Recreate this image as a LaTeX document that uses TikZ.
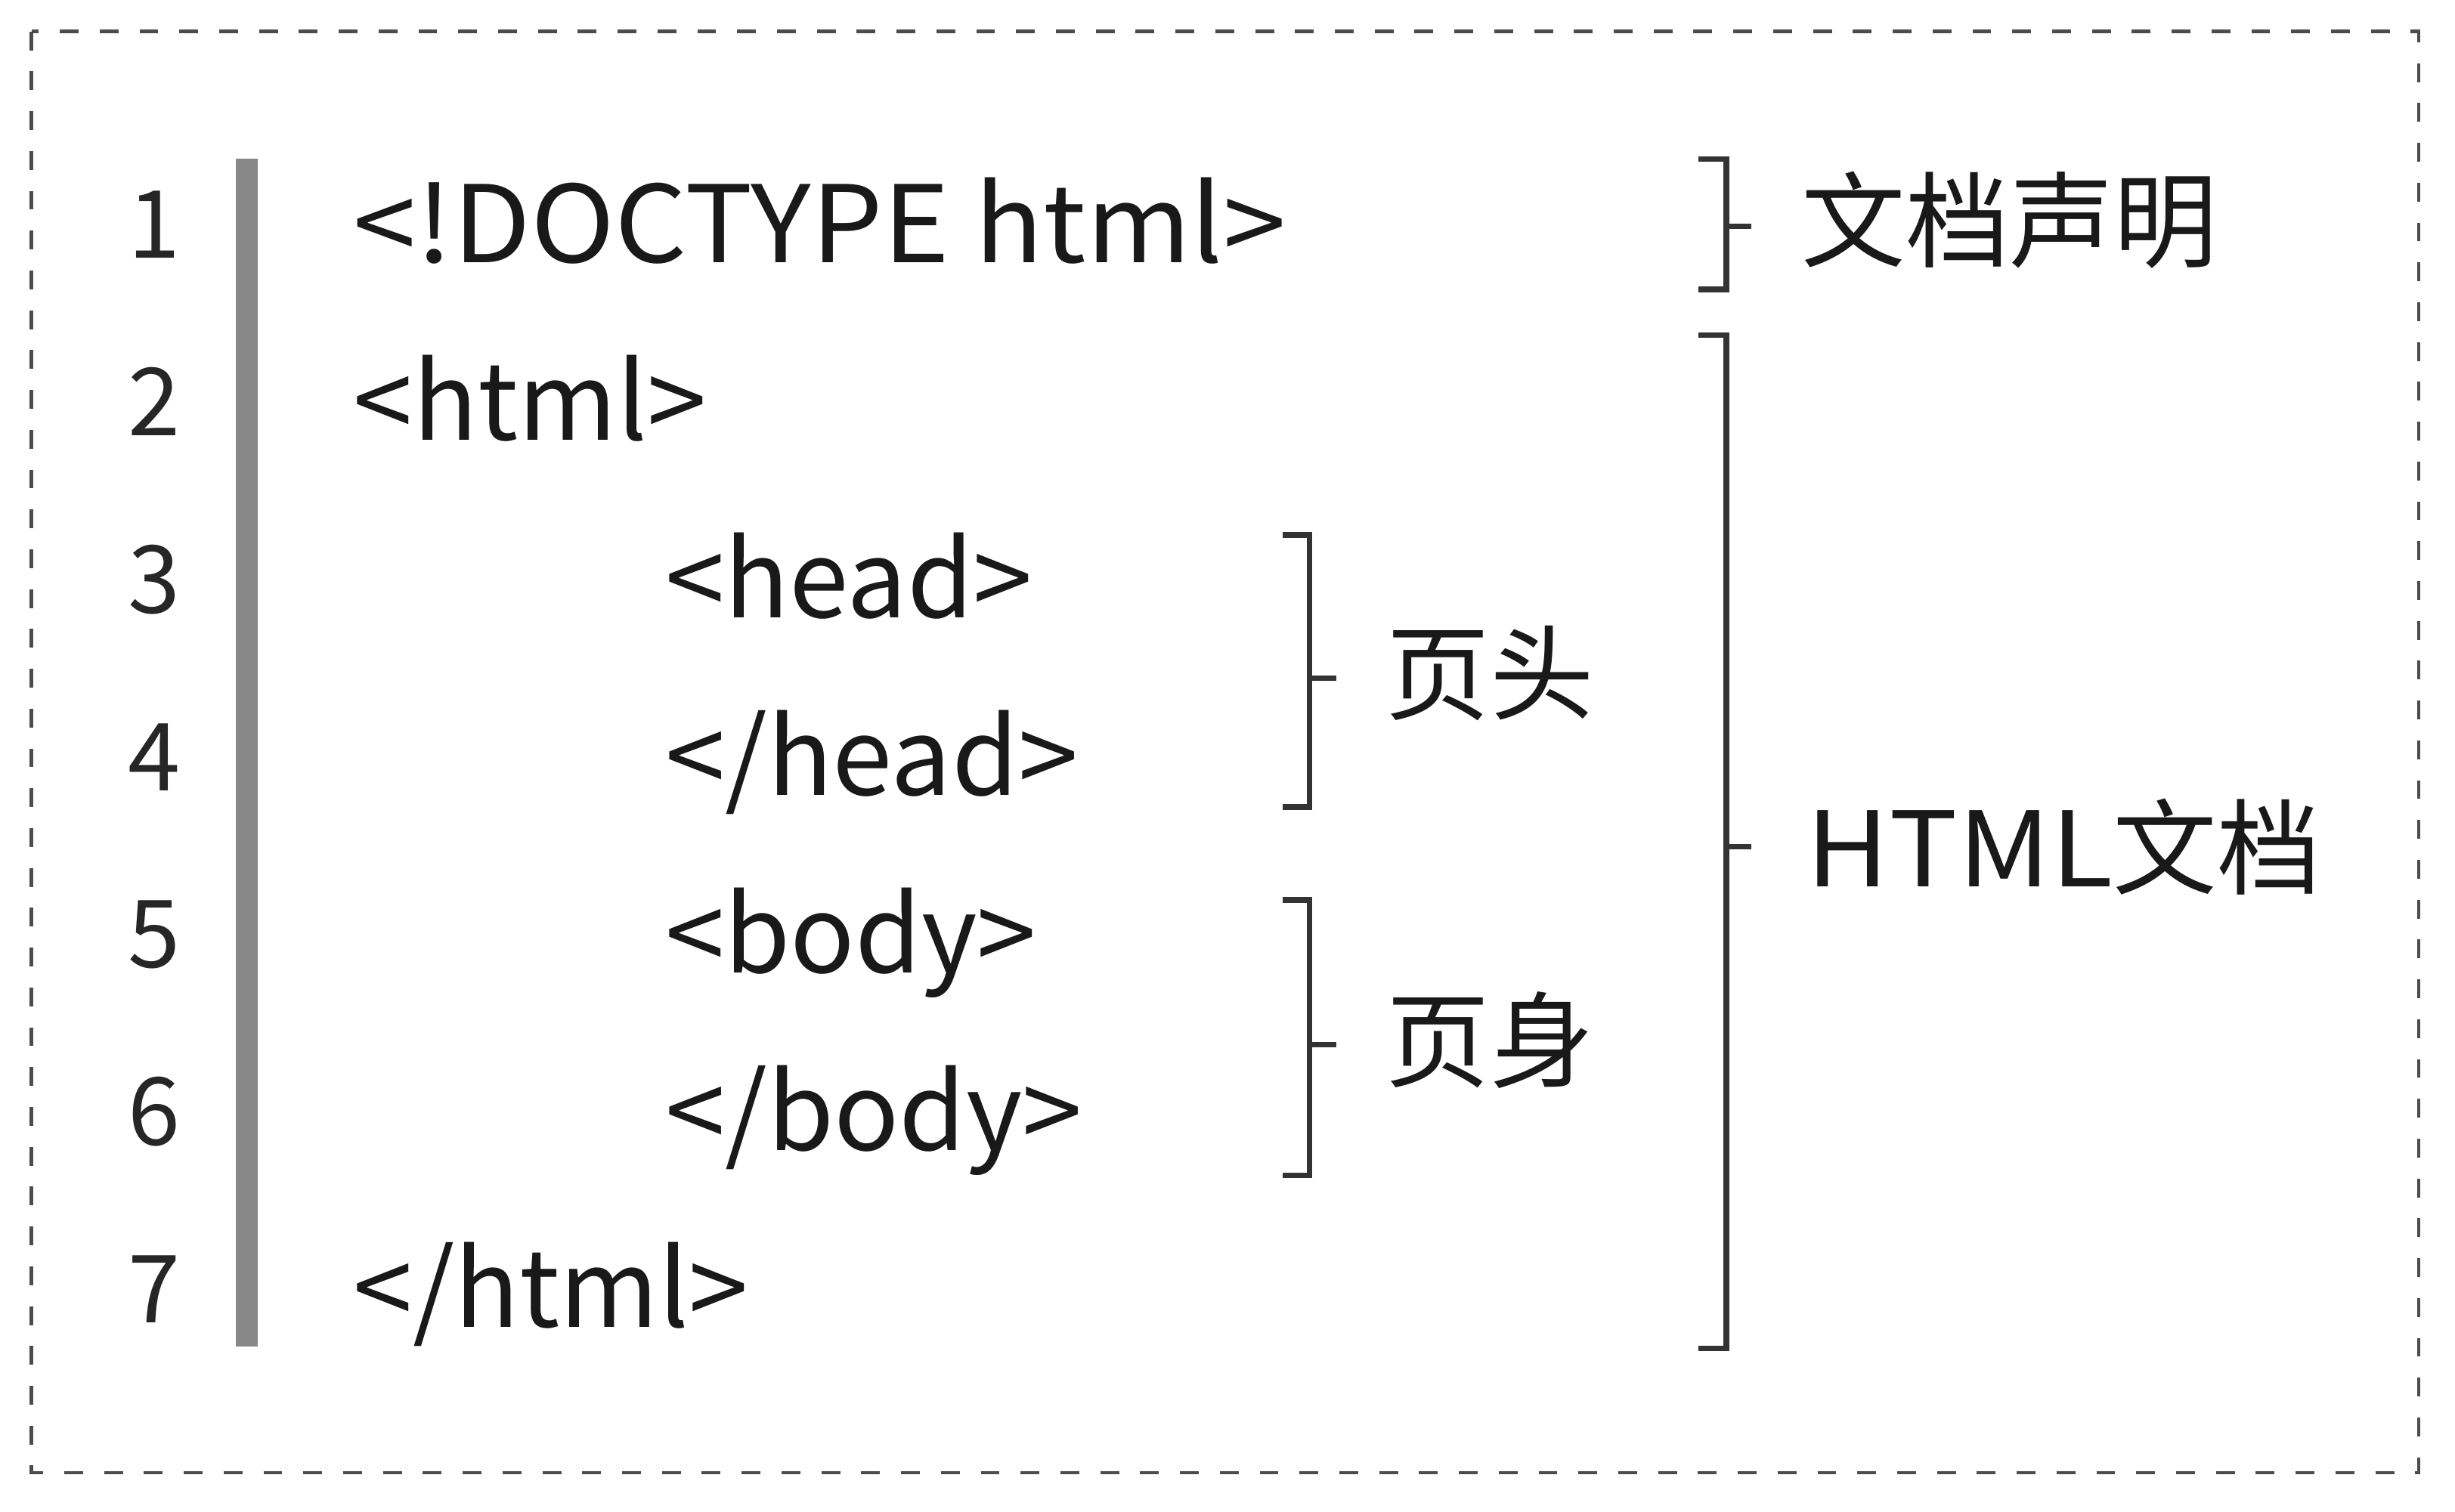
\documentclass[tikz,border=0pt]{standalone}
\usepackage{fontspec}
\setmainfont{Noto Sans CJK SC}
\begin{document}
\begin{tikzpicture}[x=0.01cm,y=-0.01cm,
  code/.style={anchor=base west,inner sep=0pt,font=\fontsize{19.3pt}{22pt}\selectfont,text=black!90},
  lnum/.style={anchor=base,inner sep=0pt,font=\fontsize{17pt}{20pt}\selectfont,text=black!85},
  lab/.style={anchor=west,inner sep=0pt,font=\fontsize{18.8pt}{22pt}\selectfont,text=black!90},
  brk/.style={draw=black!80,line width=1pt,line cap=butt,line join=miter},
  border/.style={draw=black!70,line width=0.6pt,dash pattern=on 3.4pt off 3.8pt},
  gutter/.style={fill=black!47,draw=none}]
\useasboundingbox (0,0) rectangle (1560,960.6);
\fill[white] (0,0) rectangle (1560,960.6);
\draw[border] (20,20) rectangle (1537,936);
\fill[gutter] (150,101) rectangle (164,856);
% line numbers
\foreach \i in {1,...,7}{
  \node[lnum] (n\i) at (98,{164+112.8*(\i-1)}) {\i};
}
% code lines
\node[code] (c1) at (224,167) {\scalebox{1.06}[1]{<!DOCTYPE html>}};
\node[code] (c2) at (224,279.8) {<html>};
\node[code] (c3) at (422,392.6) {<head>};
\node[code] (c4) at (422,505.4) {\scalebox{1.01}[1]{</head>}};
\node[code] (c5) at (422,618.2) {<body>};
\node[code] (c6) at (422,731) {\scalebox{1.01}[1]{</body>}};
\node[code] (c7) at (224,843.8) {</html>};
% brackets
\coordinate (b1t) at (1079,101);
\coordinate (b1b) at (1079,184);
\draw[brk] (b1t) -- ++(18,0) |- (b1b);
\draw[brk] (1097,144) -- ++(16,0) coordinate (b1m);
\coordinate (b2t) at (1079,213);
\coordinate (b2b) at (1079,857);
\draw[brk] (b2t) -- ++(18,0) |- (b2b);
\draw[brk] (1097,538) -- ++(16,0) coordinate (b2m);
\coordinate (b3t) at (815,340);
\coordinate (b3b) at (815,513);
\draw[brk] (b3t) -- ++(17,0) |- (b3b);
\draw[brk] (832,431) -- ++(17,0) coordinate (b3m);
\coordinate (b4t) at (815,572);
\coordinate (b4b) at (815,747);
\draw[brk] (b4t) -- ++(17,0) |- (b4b);
\draw[brk] (832,664) -- ++(17,0) coordinate (b4m);
% labels
\node[lab] (l1) at (1144,140) {文档声明};
\node[lab] (l2) at (1147,538) {\scalebox{1.1}[1]{HTML}文档};
\node[lab] (l3) at (880,428) {页头};
\node[lab] (l4) at (880,661) {页身};
\end{tikzpicture}
\end{document}
